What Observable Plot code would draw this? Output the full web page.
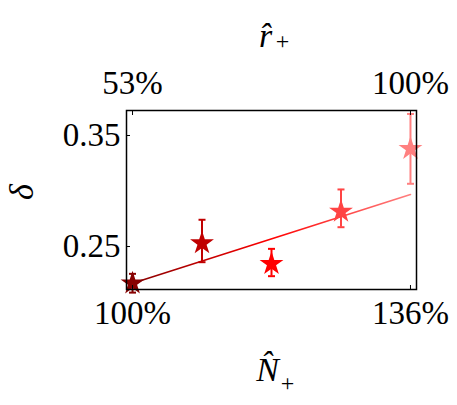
<!DOCTYPE html>
<html><head><meta charset="utf-8">
<script src="https://cdn.jsdelivr.net/npm/d3@7"></script>
<script src="https://cdn.jsdelivr.net/npm/@observablehq/plot@0.6"></script>
<style>body{margin:0;background:#fff}</style></head>
<body><div id="chart"></div>
<script>
const nHat = [100, 109, 118, 127, 136];
const delta = [0.2169, 0.2530, 0.2344, 0.2815, 0.3380];
const deltaLow = [0.2085, 0.2359, 0.2233, 0.2674, 0.3065];
const deltaHigh = [0.2254, 0.2741, 0.2479, 0.3014, 0.3694];
const pointColors = ["#870000", "#c00000", "#ff0000", "#ff4444", "#ff8080"];
const fitN = [100, 136];
const fitDelta = [0.2169, 0.2968];
const nTicks = [100, 136];
const nTickLabels = ["100%", "136%"];
const rTickLabels = ["53%", "100%"];
const deltaTicks = [0.25, 0.35];
const deltaTickLabels = ["0.25", "0.35"];

const data = nHat.map((n, i) => ({n, d: delta[i], lo: deltaLow[i], hi: deltaHigh[i], c: pointColors[i]}));
const fit = fitN.map((n, i) => ({n, d: fitDelta[i]}));
const capSymbol = {draw(ctx, size) { const w = Math.sqrt(size / Math.PI); ctx.moveTo(-w, 0); ctx.lineTo(w, 0); }};

const font = "Liberation Serif";
const plot = Plot.plot({
  width: 457, height: 405,
  marginLeft: 126, marginRight: 41, marginTop: 110, marginBottom: 116,
  style: {fontFamily: font, fontSize: "33px", background: "white", color: "black"},
  x: {domain: [99.22, 136.78], axis: null},
  y: {domain: [0.2113, 0.3725], axis: null},
  color: {type: "identity"},
  marks: [
    Plot.line(fit, {x: "n", y: "d", stroke: "url(#fitgrad)", strokeWidth: 1.6}),
    Plot.ruleX(data, {x: "n", y1: "lo", y2: "hi", stroke: "c", strokeWidth: 2}),
    Plot.dot(data, {x: "n", y: "lo", symbol: capSymbol, stroke: "c", r: 3.5, strokeWidth: 2}),
    Plot.dot(data, {x: "n", y: "hi", symbol: capSymbol, stroke: "c", r: 3.5, strokeWidth: 2}),
    Plot.dot(data, {x: "n", y: "d", symbol: "star", fill: "c", stroke: "none", r: 7.5}),
    Plot.frame({stroke: "black", strokeWidth: 1.5}),
    Plot.axisX(nTicks, {anchor: "bottom", label: null, tickSize: -4, tickPadding: 15, tickFormat: (d) => nTickLabels[nTicks.indexOf(d)], fontSize: 33}),
    Plot.axisX(nTicks, {anchor: "top", label: null, tickSize: -4, tickPadding: 21, tickFormat: (d) => rTickLabels[nTicks.indexOf(d)], fontSize: 33}),
    Plot.axisY(deltaTicks, {anchor: "left", label: null, tickSize: -4, tickPadding: 10, tickFormat: (d) => deltaTickLabels[deltaTicks.indexOf(d)], fontSize: 33}),
    Plot.text(["r\u0302"], {frameAnchor: "top", dx: -6, dy: -88, fontStyle: "italic", fontSize: 34}),
    Plot.text(["+"], {frameAnchor: "top", dx: 11, dy: -79, fontSize: 24}),
    Plot.text(["N\u0302"], {frameAnchor: "bottom", dx: -4, dy: 91, fontStyle: "italic", fontSize: 34}),
    Plot.text(["+"], {frameAnchor: "bottom", dx: 16, dy: 101, fontSize: 24}),
    Plot.text(["\u03b4"], {frameAnchor: "left", dx: -104, rotate: -90, fontStyle: "italic", fontSize: 34})
  ]
});
const svg = d3.select(plot);
const defs = svg.insert("defs", ":first-child");
const grad = defs.append("linearGradient").attr("id", "fitgrad").attr("x1", "0%").attr("x2", "100%").attr("y1", "0%").attr("y2", "0%");
pointColors.forEach((c, i) => grad.append("stop").attr("offset", (i / (pointColors.length - 1) * 100) + "%").attr("stop-color", c));
document.getElementById("chart").appendChild(plot);
</script>
</body></html>
